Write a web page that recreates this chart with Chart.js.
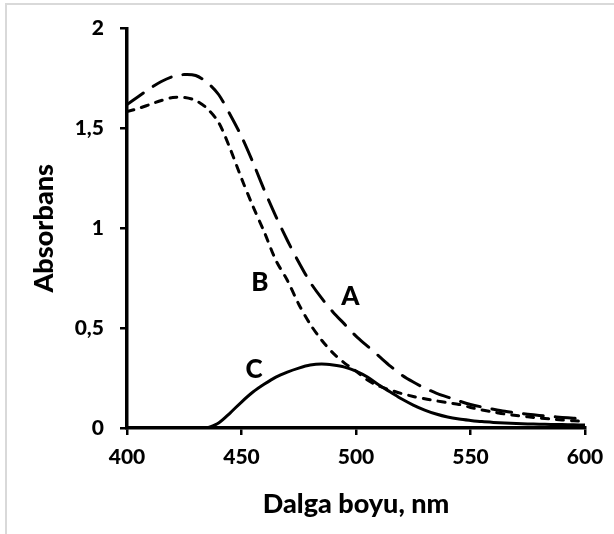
<!DOCTYPE html>
<html>
<head>
<meta charset="utf-8">
<script src="https://cdn.jsdelivr.net/npm/chart.js@4.4.1/dist/chart.umd.min.js"></script>
<style>
  html, body { margin: 0; padding: 0; background: #fff; }
  #wrap { position: relative; width: 614px; height: 534px; overflow: hidden; }
  #frame { position: absolute; left: 5px; top: 3px; width: 700px; height: 700px;
           border-left: 2px solid #d9d9d9; border-top: 2px solid #d9d9d9; }
  canvas { position: absolute; left: 0; top: 0; }
</style>
</head>
<body>
<div id="wrap">
  <div id="frame"></div>
  <canvas id="c" width="614" height="534"></canvas>
</div>
<script>
// wavelength, nm
var wavelengths = [400, 405, 410, 415, 420, 425, 430, 435, 440, 445, 450, 455, 460, 465, 470,
  475, 480, 485, 490, 495, 500, 505, 510, 515, 520, 525, 530, 535, 540, 545, 550,
  555, 560, 565, 570, 575, 580, 585, 590, 595, 600]

// absorbance
var curveA = [1.62, 1.66, 1.70, 1.735, 1.76, 1.77, 1.765, 1.73, 1.67, 1.57, 1.46, 1.33, 1.19, 1.06, 0.94,
  0.83, 0.73, 0.65, 0.58, 0.52, 0.46, 0.41, 0.36, 0.31, 0.265, 0.23, 0.20, 0.175, 0.155, 0.135, 0.118,
  0.105, 0.094, 0.084, 0.076, 0.069, 0.063, 0.058, 0.053, 0.049, 0.045]
var curveB = [1.585, 1.60, 1.62, 1.64, 1.655, 1.655, 1.64, 1.60, 1.53, 1.40, 1.25, 1.11, 0.98, 0.84, 0.74,
  0.62, 0.52, 0.44, 0.375, 0.325, 0.285, 0.24, 0.21, 0.19, 0.172, 0.158, 0.146, 0.136, 0.127, 0.118, 0.103,
  0.09, 0.08, 0.07, 0.063, 0.056, 0.05, 0.045, 0.04, 0.036, 0.033]
var curveC = [null, null, null, null, null, null, null, 0, 0.025, 0.075, 0.13, 0.18, 0.22, 0.255, 0.28,
  0.30, 0.315, 0.32, 0.315, 0.305, 0.285, 0.255, 0.215, 0.18, 0.145, 0.115, 0.09, 0.07, 0.055, 0.045, 0.038,
  0.032, 0.028, 0.025, 0.022, 0.02, 0.019, 0.018, 0.017, 0.016, 0.015]

var xTicks = [400, 450, 500, 550, 600]
var yTicks = [0, 0.5, 1, 1.5, 2]
var yTickLabels = ['0', '0,5', '1', '1,5', '2']

// curve names, placed in data units
var curveNames = ['A', 'B', 'C']
var nameX = [497.5, 458, 455.5]
var nameY = [0.66, 0.73, 0.29]

var FONT = 'Lato, "Open Sans", sans-serif'
var WEIGHT = '900'

function points(ys) {
  return wavelengths.map(function(x, i) { return {x: x, y: ys[i]} })
}

function line(label, ys, dash) {
  return {
    label: label,
    data: points(ys),
    borderColor: '#000',
    borderWidth: 3,
    borderDash: dash,
    borderCapStyle: dash.length ? 'round' : 'butt',
    pointRadius: 0,
    tension: 0.3,
    fill: false,
    spanGaps: false
  }
}

var curveLabels = {
  id: 'curveLabels',
  afterDatasetsDraw: function(chart) {
    var ctx = chart.ctx
    var xs = chart.scales.x, ys = chart.scales.y
    ctx.save()
    ctx.fillStyle = '#000'
    ctx.font = WEIGHT + ' 26px ' + FONT
    ctx.textAlign = 'center'
    ctx.textBaseline = 'middle'
    curveNames.forEach(function(t, i) {
      ctx.fillText(t, xs.getPixelForValue(nameX[i]), ys.getPixelForValue(nameY[i]))
    })
    ctx.restore()
  }
}

new Chart(document.getElementById('c'), {
  type: 'line',
  data: {
    datasets: [
      line('A', curveA, [20, 12]),
      line('B', curveB, [7, 8]),
      line('C', curveC, [])
    ]
  },
  options: {
    responsive: false,
    animation: false,
    devicePixelRatio: 1,
    layout: { padding: { left: 0, right: 29, top: 24, bottom: 0 } },
    plugins: { legend: { display: false }, tooltip: { enabled: false } },
    scales: {
      x: {
        type: 'linear',
        min: 400, max: 600,
        afterFit: function(s) { s.height = 106 },
        afterBuildTicks: function(s) { s.ticks = xTicks.map(function(v) { return {value: v} }) },
        border: { display: true, color: '#000', width: 3.5 },
        grid: { drawOnChartArea: false, drawTicks: true, tickLength: 7, color: '#000', lineWidth: 2.5 },
        ticks: { color: '#000', padding: 10, font: { family: FONT, size: 21, weight: WEIGHT } },
        title: { display: true, text: 'Dalga boyu, nm', color: '#000',
                 font: { family: FONT, size: 27, weight: WEIGHT }, padding: { top: 0, bottom: 14 } }
      },
      y: {
        min: 0, max: 2,
        afterFit: function(s) { s.width = 127 },
        afterBuildTicks: function(s) { s.ticks = yTicks.map(function(v) { return {value: v} }) },
        border: { display: true, color: '#000', width: 3.5 },
        grid: { drawOnChartArea: false, drawTicks: true, tickLength: 7, color: '#000', lineWidth: 2.5 },
        ticks: {
          color: '#000', padding: 16, font: { family: FONT, size: 21, weight: WEIGHT },
          callback: function(v) { var i = yTicks.indexOf(v); return i >= 0 ? yTickLabels[i] : '' }
        },
        title: { display: true, text: 'Absorbans', color: '#000',
                 font: { family: FONT, size: 27, weight: WEIGHT }, padding: { top: 28, bottom: 0 } }
      }
    }
  },
  plugins: [curveLabels]
})
</script>
</body>
</html>
